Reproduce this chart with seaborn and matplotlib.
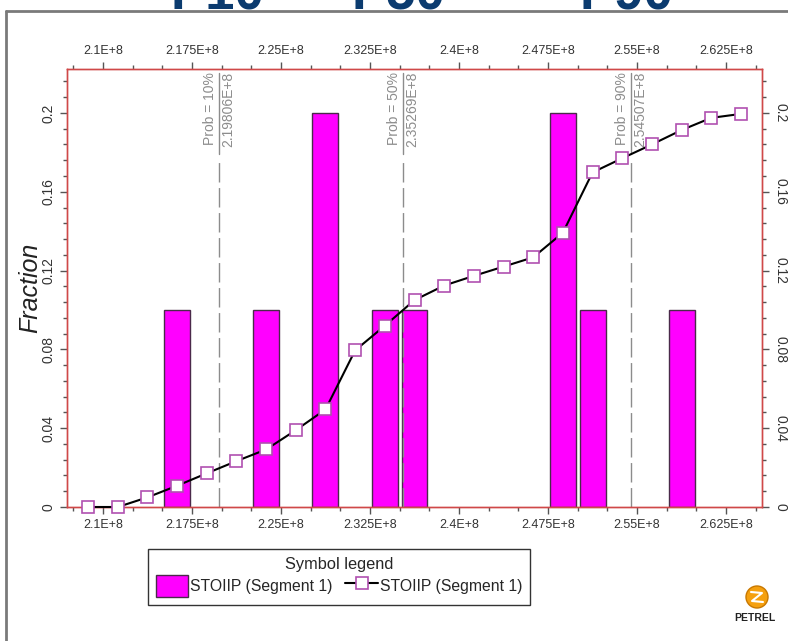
import matplotlib
matplotlib.use("Agg")
import matplotlib.pyplot as plt
import matplotlib.transforms as mtransforms
from matplotlib.lines import Line2D
from matplotlib.patches import Patch, Ellipse
from matplotlib.ticker import FixedLocator, MultipleLocator
import seaborn as sns

# --- datos ---
bin_centers = [2.1625e8, 2.2375e8, 2.2875e8, 2.3375e8, 2.3625e8, 2.4875e8, 2.5125e8, 2.5875e8]
fractions = [0.1, 0.1, 0.2, 0.1, 0.1, 0.2, 0.1, 0.1]

curve_x = [2.0875e8, 2.1125e8, 2.1375e8, 2.1625e8, 2.1875e8, 2.2125e8, 2.2375e8, 2.2625e8,
           2.2875e8, 2.3125e8, 2.3375e8, 2.3625e8, 2.3875e8, 2.4125e8, 2.4375e8, 2.4625e8,
           2.4875e8, 2.5125e8, 2.5375e8, 2.5625e8, 2.5875e8, 2.6125e8, 2.6375e8]
curve_y = [0.0, 0.0, 0.0049, 0.0108, 0.0171, 0.0233, 0.0292, 0.039,
           0.0495, 0.0795, 0.092, 0.105, 0.1124, 0.1173, 0.122, 0.1267,
           0.1392, 0.1698, 0.177, 0.184, 0.1913, 0.1975, 0.1995]

prob_names = ["Prob = 10%", "Prob = 50%", "Prob = 90%"]
prob_values = [2.19806e8, 2.35269e8, 2.54507e8]
prob_texts = ["2.19806E+8", "2.35269E+8", "2.54507E+8"]

x_ticks = [2.1e8, 2.175e8, 2.25e8, 2.325e8, 2.4e8, 2.475e8, 2.55e8, 2.625e8]
x_ticklabels = ["2.1E+8", "2.175E+8", "2.25E+8", "2.325E+8", "2.4E+8", "2.475E+8", "2.55E+8", "2.625E+8"]
y_ticks = [0, 0.04, 0.08, 0.12, 0.16, 0.2]
y_ticklabels = ["0", "0.04", "0.08", "0.12", "0.16", "0.2"]

series_name = "STOIIP (Segment 1)"
title_parts = ["P10", "P50", "P90"]

# --- estilo ---
sns.set_style("white")
plt.rcParams["font.family"] = ["Liberation Sans", "DejaVu Sans"]

MAGENTA = "#ff00ff"
SPINE = "#d04848"
GRIS = "#8c8c8c"

fig = plt.figure(figsize=(7.88, 6.41), dpi=100)
ax = fig.add_axes([67 / 788, 1 - 507 / 641, 695 / 788, 438 / 641])
ax2 = ax.twinx()

# Histograma
sns.barplot(x=bin_centers, y=fractions, native_scale=True, width=0.876, color=MAGENTA,
            saturation=1, edgecolor="#4a2a4a", linewidth=1, errorbar=None, ax=ax)

# Curva
sns.lineplot(x=curve_x, y=curve_y, ax=ax2, color="black", linewidth=1.5, marker="s",
             markersize=9, markerfacecolor="white", markeredgecolor="#b050b0",
             markeredgewidth=1.2, clip_on=False, zorder=5)

for a in (ax, ax2):
    a.set_xlim(2.0697e8, 2.6553e8)
    a.set_ylim(0, 0.2223)
    a.set_xlabel("")
    for s in a.spines.values():
        s.set_color(SPINE)
        s.set_linewidth(1)

# Lineas de probabilidad
trans = mtransforms.blended_transform_factory(ax.transData, ax.transAxes)
for name, val, txt in zip(prob_names, prob_values, prob_texts):
    ax.plot([val, val], [0, 0.79], transform=trans, color=GRIS, lw=1, dashes=(14, 4), zorder=1)
    ax.plot([val, val], [0.805, 0.99], transform=trans, color=GRIS, lw=1, zorder=1)
    left = mtransforms.offset_copy(trans, fig=fig, x=-2, y=0, units="dots")
    right = mtransforms.offset_copy(trans, fig=fig, x=2, y=0, units="dots")
    ax.text(val, 0.993, name, transform=left, rotation=90, ha="right", va="top",
            fontsize=10, color=GRIS)
    ax.text(val, 0.993, txt, transform=right, rotation=90, ha="left", va="top",
            fontsize=10, color=GRIS)

# Ejes
ax.xaxis.set_major_locator(FixedLocator(x_ticks))
ax.set_xticklabels(x_ticklabels)
ax.xaxis.set_minor_locator(MultipleLocator(2.5e6))
ax.yaxis.set_major_locator(FixedLocator(y_ticks))
ax.set_yticklabels(y_ticklabels, rotation=90, va="center")
ax.yaxis.set_minor_locator(MultipleLocator(0.008))
ax2.yaxis.set_major_locator(FixedLocator(y_ticks))
ax2.set_yticklabels(y_ticklabels, rotation=270, va="center")
ax2.yaxis.set_minor_locator(MultipleLocator(0.008))
ax2.set_ylabel("")

ax.tick_params(axis="x", which="both", bottom=True, top=True, labeltop=True, direction="out",
               color="#555555", labelcolor="#333333", labelsize=9)
ax.tick_params(axis="y", which="both", left=True, direction="out", color="#555555",
               labelcolor="#333333", labelsize=10)
ax2.tick_params(axis="y", which="both", right=True, direction="out", color="#555555",
                labelcolor="#333333", labelsize=10)
for a in (ax, ax2):
    a.tick_params(which="major", length=5, width=1)
    a.tick_params(which="minor", length=3, width=1)

ax.set_ylabel("Fraction", fontsize=18, style="italic", color="#222222")
ax.yaxis.set_label_coords(-0.036, 0.5)

# Leyenda
handles = [Patch(facecolor=MAGENTA, edgecolor="#4a2a4a", linewidth=1),
           Line2D([], [], color="black", lw=1.5, marker="s", markersize=9,
                  markerfacecolor="white", markeredgecolor="#b050b0", markeredgewidth=1.2)]
leg = fig.legend(handles, [series_name, series_name], title="Symbol legend", ncol=2,
                 loc="center", bbox_to_anchor=(339 / 788, 1 - 577 / 641), frameon=True,
                 fancybox=False, edgecolor="black", fontsize=11.3, title_fontsize=11.8,
                 handlelength=2.07, handleheight=1.75, columnspacing=0.8, handletextpad=0.15,
                 borderpad=0.5, labelspacing=0.2)
leg.get_frame().set_linewidth(1)

# Titulo recortado arriba
for part, xc in zip(title_parts, [217, 398, 626]):
    fig.text(xc / 788, 1 - 9 / 641, part, ha="center", va="baseline", fontsize=38,
             fontweight="bold", color="#0b3b6f")

# Marco
fig.add_artist(Line2D([6 / 788, 6 / 788], [0, 1 - 11 / 641], transform=fig.transFigure,
                      color="#7a7a7a", lw=2))
fig.add_artist(Line2D([6 / 788, 1], [1 - 11 / 641, 1 - 11 / 641], transform=fig.transFigure,
                      color="#7a7a7a", lw=2))

# Logo
fig.add_artist(Ellipse((757 / 788, 1 - 597 / 641), 22 / 788, 22 / 641, transform=fig.transFigure,
                       facecolor="#f5a00f", edgecolor="#c87800", lw=1))
fig.add_artist(Line2D([751 / 788, 762 / 788, 752 / 788, 763 / 788],
                      [1 - 592 / 641, 1 - 593 / 641, 1 - 601 / 641, 1 - 602 / 641],
                      transform=fig.transFigure, color="white", lw=1.5))
fig.text(755 / 788, 1 - 618 / 641, "PETREL", ha="center", va="center", fontsize=7.5,
         fontweight="bold", color="#222222")

fig.savefig("out.png", dpi=100)
